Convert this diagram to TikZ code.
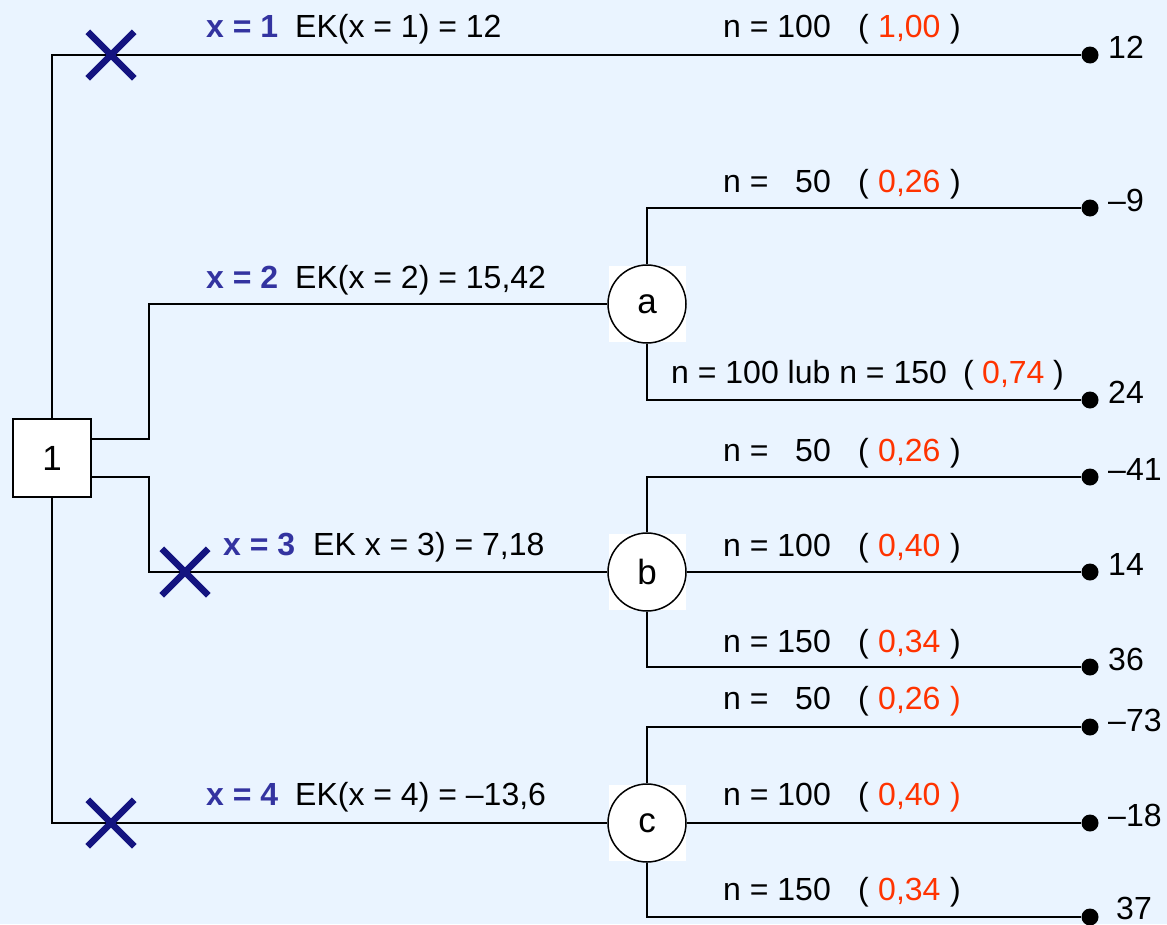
\documentclass[tikz,border=0pt]{standalone}
\usepackage{fontspec}
\setmainfont{Liberation Sans}
\usetikzlibrary{shapes.misc}
\definecolor{bg}{RGB}{234,244,255}
\definecolor{xblue}{RGB}{51,51,160}
\definecolor{navyx}{RGB}{20,20,128}
\definecolor{pred}{RGB}{255,51,0}
\begin{document}
\begin{tikzpicture}[x=1pt,y=-1pt,
  txt/.style={inner sep=0pt,anchor=base west,font=\fontsize{32}{38}\selectfont},
  txtr/.style={inner sep=0pt,anchor=base east,font=\fontsize{32}{38}\selectfont},
  xlab/.style={txt,text=xblue,font=\fontsize{32}{38}\selectfont\bfseries},
  prob/.style={txt,text=pred},
  conn/.style={draw=black,line width=1.8pt},
  decbox/.style={draw=black,fill=white,line width=1.5pt,minimum size=78pt,inner sep=0pt,font=\fontsize{35}{40}\selectfont},
  chance/.style={circle,draw=black,fill=white,line width=1.5pt,minimum size=78pt,inner sep=0pt,font=\fontsize{35}{40}\selectfont},
  endpt/.style={circle,fill=black,minimum size=17pt,inner sep=0pt},
  xmark/.style={cross out,draw=navyx,line width=6.5pt,minimum size=40pt,inner sep=0pt}
]
\fill[bg] (0,0) rectangle (1167,924);
\useasboundingbox (0,0) rectangle (1167,924);

% decision node
\node[decbox] (d1) at (52,458) {1};

% chance nodes with white square backdrop
\fill[white] (609,266) rectangle (686,342);
\fill[white] (609,534) rectangle (686,610);
\fill[white] (609,785) rectangle (686,861);
\node[chance] (a) at (647,304) {a};
\node[chance] (b) at (647,572) {b};
\node[chance] (c) at (647,823) {c};

% end points
\node[endpt] (e1) at (1090,55) {};
\node[endpt] (e2) at (1090,208) {};
\node[endpt] (e3) at (1090,400) {};
\node[endpt] (e4) at (1090,477) {};
\node[endpt] (e5) at (1090,572) {};
\node[endpt] (e6) at (1090,667) {};
\node[endpt] (e7) at (1090,727) {};
\node[endpt] (e8) at (1090,823) {};
\node[endpt] (e9) at (1090,917) {};

% connectors
\draw[conn] (d1.north) |- (e1);
\draw[conn] ([yshift=19pt]d1.east) -- ++(57,0) |- (a);
\draw[conn] ([yshift=-19pt]d1.east) -- ++(57,0) |- (b);
\draw[conn] (d1.south) |- (c);
\draw[conn] (a.north) |- (e2);
\draw[conn] (a.south) |- (e3);
\draw[conn] (b.north) |- (e4);
\draw[conn] (b) -- (e5);
\draw[conn] (b.south) |- (e6);
\draw[conn] (c.north) |- (e7);
\draw[conn] (c) -- (e8);
\draw[conn] (c.south) |- (e9);

% crosses
\node[xmark] (k1) at (111,55) {};
\node[xmark] (k3) at (185,572) {};
\node[xmark] (k4) at (111,823) {};

% decision labels
\node[xlab] (x1) at (206,37) {x = 1};
\node[txt] (ek1) at (295,37) {EK(x = 1) = 12};
\node[xlab] (x2) at (206,288) {x = 2};
\node[txt] (ek2) at (295,288) {EK(x = 2) = 15,42};
\node[xlab] (x3) at (223,555) {x = 3};
\node[txt] (ek3) at (313,555) {EK x = 3) = 7,18};
\node[xlab] (x4) at (206,805) {x = 4};
\node[txt] (ek4) at (295,805) {EK(x = 4) = –13,6};

% branch labels
% row 1
\node[txt] (n1) at (723,37) {n = 100};
\node[txt] (l1) at (858,37) {(};
\node[prob] (p1) at (878,37) {1,00};
\node[txt] (r1) at (950,37) {)};
% a top
\node[txt] (n2) at (723,192) {n =};
\node[txtr] (m2) at (831,192) {50};
\node[txt] (l2) at (858,192) {(};
\node[prob] (p2) at (878,192) {0,26};
\node[txt] (r2) at (950,192) {)};
% a bottom
\node[txt] (n3) at (671,383) {n = 100 lub n = 150};
\node[txt] (l3) at (963,383) {(};
\node[prob] (p3) at (982,383) {0,74};
\node[txt] (r3) at (1053,383) {)};
% b top
\node[txt] (n4) at (723,461) {n =};
\node[txtr] (m4) at (831,461) {50};
\node[txt] (l4) at (858,461) {(};
\node[prob] (p4) at (878,461) {0,26};
\node[txt] (r4) at (950,461) {)};
% b mid
\node[txt] (n5) at (723,556) {n = 100};
\node[txt] (l5) at (858,556) {(};
\node[prob] (p5) at (878,556) {0,40};
\node[txt] (r5) at (950,556) {)};
% b bottom
\node[txt] (n6) at (723,652) {n = 150};
\node[txt] (l6) at (858,652) {(};
\node[prob] (p6) at (878,652) {0,34};
\node[txt] (r6) at (950,652) {)};
% c top
\node[txt] (n7) at (723,709) {n =};
\node[txtr] (m7) at (831,709) {50};
\node[txt] (l7) at (858,709) {(};
\node[prob] (p7) at (878,709) {0,26};
\node[prob] (r7) at (950,709) {)};
% c mid
\node[txt] (n8) at (723,805) {n = 100};
\node[txt] (l8) at (858,805) {(};
\node[prob] (p8) at (878,805) {0,40};
\node[prob] (r8) at (950,805) {)};
% c bottom
\node[txt] (n9) at (723,900) {n = 150};
\node[txt] (l9) at (858,900) {(};
\node[prob] (p9) at (878,900) {0,34};
\node[txt] (r9) at (950,900) {)};

% payoffs
\node[txt] (v1) at (1108,58) {12};
\node[txt] (v2) at (1108,211) {–9};
\node[txt] (v3) at (1108,403) {24};
\node[txt] (v4) at (1108,480) {–41};
\node[txt] (v5) at (1108,575) {14};
\node[txt] (v6) at (1108,670) {36};
\node[txt] (v7) at (1108,731) {–73};
\node[txt] (v8) at (1108,826) {–18};
\node[txt] (v9) at (1116,919) {37};
\end{tikzpicture}
\end{document}
